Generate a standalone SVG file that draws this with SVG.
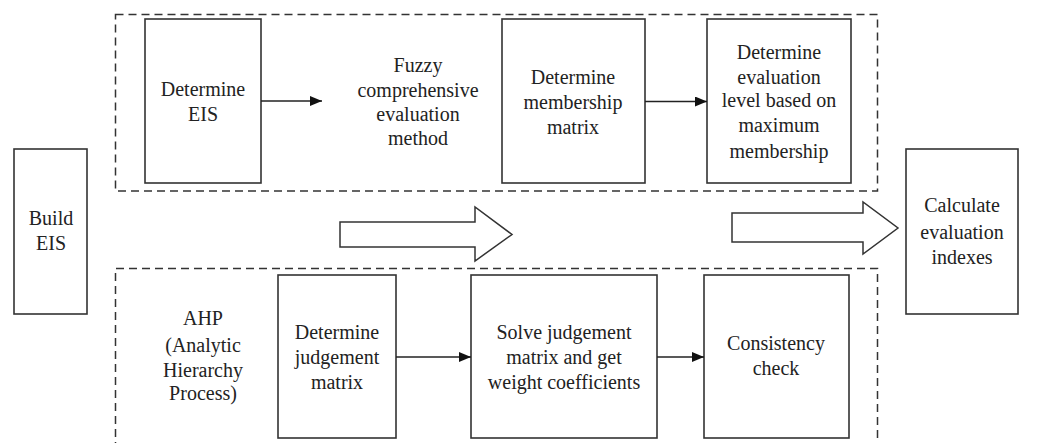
<svg xmlns="http://www.w3.org/2000/svg" width="1037" height="443" viewBox="0 0 1037 443">
<style>
.box{fill:#fff;stroke:#333;stroke-width:1.6}
.dash{fill:none;stroke:#333;stroke-width:1.5;stroke-dasharray:8,5}
.t{font-family:'Liberation Serif','Times New Roman','DejaVu Serif',serif;font-size:20px;fill:#222;text-anchor:middle}
.con{stroke:#222;stroke-width:1.5;fill:none}
.big{fill:#fff;stroke:#333;stroke-width:1.5}
</style>
<defs>
<marker id="ah" viewBox="0 0 12 10" refX="12" refY="5" markerWidth="12" markerHeight="10" markerUnits="userSpaceOnUse" orient="auto">
<path d="M0,0 L12,5 L0,10 z" fill="#111"/>
</marker>
</defs>
<rect width="1037" height="443" fill="#fff"/>
<g id="groups">
<rect class="dash" x="115.5" y="14.5" width="762" height="176.5"/>
<path class="dash" d="M115.5,450 V268.5 H877.5 V450"/>
</g>
<g id="build-eis">
<rect class="box" x="14" y="149" width="73" height="165"/>
<text class="t" font-family="Liberation Serif, serif"><tspan x="51" y="225">Build</tspan><tspan x="51" y="250">EIS</tspan></text>
</g>
<g id="determine-eis">
<rect class="box" x="145" y="19" width="116" height="164"/>
<text class="t"><tspan x="203" y="96">Determine</tspan><tspan x="203" y="121">EIS</tspan></text>
</g>
<g id="fuzzy">
<text class="t"><tspan x="418" y="72">Fuzzy</tspan><tspan x="418" y="97">comprehensive</tspan><tspan x="418" y="121">evaluation</tspan><tspan x="418" y="145">method</tspan></text>
</g>
<g id="membership">
<rect class="box" x="502" y="19" width="143" height="164"/>
<text class="t"><tspan x="573" y="84">Determine</tspan><tspan x="573" y="109">membership</tspan><tspan x="573" y="134">matrix</tspan></text>
</g>
<g id="evaluation-level">
<rect class="box" x="707" y="19" width="144" height="164"/>
<text class="t"><tspan x="779" y="59">Determine</tspan><tspan x="779" y="84">evaluation</tspan><tspan x="779" y="107">level based on</tspan><tspan x="779" y="132">maximum</tspan><tspan x="779" y="158">membership</tspan></text>
</g>
<g id="calculate">
<rect class="box" x="906" y="149" width="112" height="165"/>
<text class="t"><tspan x="962" y="212">Calculate</tspan><tspan x="962" y="239">evaluation</tspan><tspan x="962" y="264">indexes</tspan></text>
</g>
<g id="ahp">
<text class="t"><tspan x="203" y="325">AHP</tspan><tspan x="203" y="352">(Analytic</tspan><tspan x="203" y="377">Hierarchy</tspan><tspan x="203" y="400">Process)</tspan></text>
</g>
<g id="judgement">
<rect class="box" x="278" y="275" width="118" height="163"/>
<text class="t"><tspan x="337" y="339">Determine</tspan><tspan x="337" y="364">judgement</tspan><tspan x="337" y="389">matrix</tspan></text>
</g>
<g id="solve">
<rect class="box" x="471" y="275" width="186" height="163"/>
<text class="t"><tspan x="564" y="339">Solve judgement</tspan><tspan x="564" y="364">matrix and get</tspan><tspan x="564" y="389">weight coefficients</tspan></text>
</g>
<g id="consistency">
<rect class="box" x="704" y="275" width="145" height="163"/>
<text class="t"><tspan x="776" y="350">Consistency</tspan><tspan x="776" y="375">check</tspan></text>
</g>
<g id="connectors">
<line class="con" x1="261" y1="101" x2="322" y2="101" marker-end="url(#ah)"/>
<line class="con" x1="645" y1="101.5" x2="707" y2="101.5" marker-end="url(#ah)"/>
<line class="con" x1="396" y1="357" x2="471" y2="357" marker-end="url(#ah)"/>
<line class="con" x1="657" y1="357" x2="704" y2="357" marker-end="url(#ah)"/>
<path class="big" d="M340,222 H475 V207 L512,234.5 L475,261 V247 H340 Z"/>
<path class="big" d="M732,213 H863 V202 L898,228 L863,254 V242 H732 Z"/>
</g>
</svg>
